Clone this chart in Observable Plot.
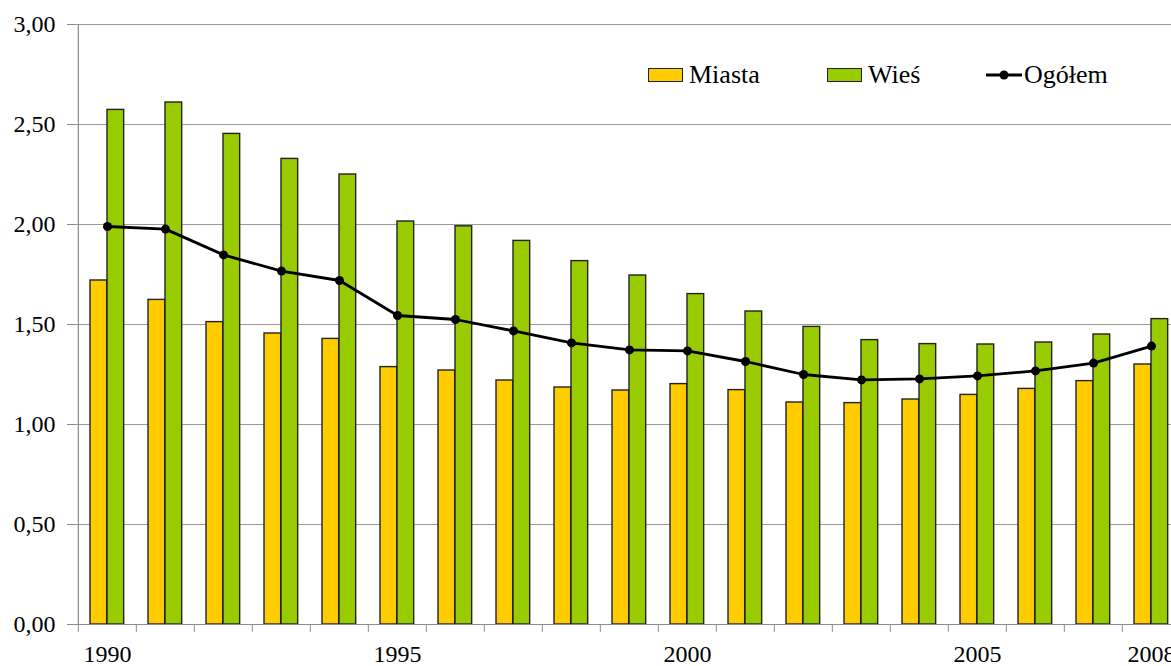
<!DOCTYPE html>
<html>
<head>
<meta charset="utf-8">
<script src="https://cdn.jsdelivr.net/npm/d3@7"></script>
<script src="https://cdn.jsdelivr.net/npm/@observablehq/plot@0.6"></script>
<style>
html, body { margin: 0; padding: 0; overflow: hidden; background: #fff; }
#wrap { position: relative; width: 1171px; height: 666px; overflow: hidden; }
#wrap > svg { max-width: none !important; height: 666px !important; width: 1183px !important; display: block; }
.legend { position: absolute; top: 0; left: 0; font-family: "Liberation Serif", "Times New Roman", "DejaVu Serif", serif; font-size: 26px; color: #000; }
.item { position: absolute; display: flex; align-items: center; white-space: nowrap; line-height: 28px; }
.sw { width: 33px; height: 12px; border: 1px solid #222; margin-right: 6px; }
</style>
</head>
<body>
<div id="wrap"></div>
<script>
const years = [1990,1991,1992,1993,1994,1995,1996,1997,1998,1999,2000,2001,2002,2003,2004,2005,2006,2007,2008];
const miasta = [1.72,1.623,1.512,1.455,1.428,1.287,1.27,1.22,1.185,1.17,1.202,1.172,1.11,1.107,1.125,1.148,1.178,1.217,1.30];
const wies   = [2.573,2.61,2.453,2.328,2.25,2.015,1.991,1.918,1.817,1.745,1.652,1.565,1.488,1.422,1.402,1.40,1.41,1.45,1.527];
const ogolem = [1.99,1.977,1.848,1.767,1.72,1.545,1.525,1.468,1.408,1.373,1.368,1.315,1.25,1.223,1.228,1.243,1.268,1.307,1.392];
const yTicks = [0,0.5,1,1.5,2,2.5,3];
const xLabelYears = [1990,1995,2000,2005,2008];
const seriesNames = ["Miasta","Wieś","Ogółem"];
const colors = {"Miasta":"#FFCC00","Wieś":"#99CC00","Ogółem":"#000000"};

const rowsM = years.map((y,i)=>({year:y, value:miasta[i]}));
const rowsW = years.map((y,i)=>({year:y, value:wies[i]}));
const rowsO = years.map((y,i)=>({year:y, value:ogolem[i]}));

const W = 1183, H = 666, mL = 75, mR = 0, mT = 24, mB = 42;
const bw = (W - mL - mR) / years.length;
const fmt = v => d3.format(".2f")(v).replace(".", ",");
const font = "'Liberation Serif', 'Times New Roman', 'DejaVu Serif', serif";

const chart = Plot.plot({
  width: W, height: H,
  marginLeft: mL, marginRight: mR, marginTop: mT, marginBottom: mB,
  style: {fontFamily: font, fontSize: "24px", background: "#fff", color: "#000", maxWidth: "none"},
  x: {type: "band", domain: years, paddingInner: 0, paddingOuter: 0, axis: null, label: null},
  y: {domain: [0, 3], axis: null, label: null},
  marks: [
    Plot.ruleY(yTicks.filter(d => d > 0), {stroke: "#9a9a9a", strokeWidth: 1}),
    Plot.barY(rowsM, {x: "year", y: "value", fill: colors["Miasta"], stroke: "#222", strokeWidth: 1.4, insetLeft: 12, insetRight: bw - 29}),
    Plot.barY(rowsW, {x: "year", y: "value", fill: colors["Wieś"], stroke: "#222", strokeWidth: 1.4, insetLeft: 29, insetRight: bw - 46}),
    Plot.line(rowsO, {x: "year", y: "value", stroke: "#000", strokeWidth: 2.8}),
    Plot.dot(rowsO, {x: "year", y: "value", r: 4.5, fill: "#000", stroke: "none"}),
    Plot.ruleY([0], {stroke: "#8c8c8c", strokeWidth: 1.2}),
    Plot.ruleX([years[0]], {y1: 0, y2: 3, dx: -bw/2, stroke: "#8c8c8c", strokeWidth: 1.2}),
    Plot.axisY({ticks: yTicks, tickSize: 8, tickPadding: 12, tickFormat: fmt, stroke: "#8c8c8c", fill: "#000", fontSize: 24, label: null}),
    Plot.axisX({ticks: years, tickSize: 8, tickFormat: () => "", dx: -bw/2, stroke: "#8c8c8c", label: null}),
    Plot.axisX({ticks: xLabelYears, tickSize: 0, tickPadding: 20, tickFormat: d => String(d), fill: "#000", fontSize: 24, label: null})
  ]
});

const wrap = document.getElementById("wrap");
wrap.appendChild(chart);

// Legend (inside the plot area, top right)
const legend = document.createElement("div");
legend.className = "legend";
const items = [
  {name: seriesNames[0], type: "bar", left: 648},
  {name: seriesNames[1], type: "bar", left: 827},
  {name: seriesNames[2], type: "line", left: 986}
];
for (const it of items) {
  const d = document.createElement("div");
  d.className = "item";
  d.style.left = it.left + "px";
  d.style.top = "61px";
  d.style.height = "28px";
  if (it.type === "bar") {
    const s = document.createElement("div");
    s.className = "sw";
    s.style.background = colors[it.name];
    d.appendChild(s);
  } else {
    const s = document.createElementNS("http://www.w3.org/2000/svg", "svg");
    s.setAttribute("width", "37"); s.setAttribute("height", "14");
    s.innerHTML = '<line x1="0" y1="7" x2="36" y2="7" stroke="#000" stroke-width="2.8"/><circle cx="18" cy="7" r="4.5" fill="#000"/>';
    s.style.marginRight = "1px";
    d.appendChild(s);
  }
  const t = document.createElement("span");
  t.textContent = it.name;
  d.appendChild(t);
  legend.appendChild(d);
}
wrap.appendChild(legend);
</script>
</body>
</html>
